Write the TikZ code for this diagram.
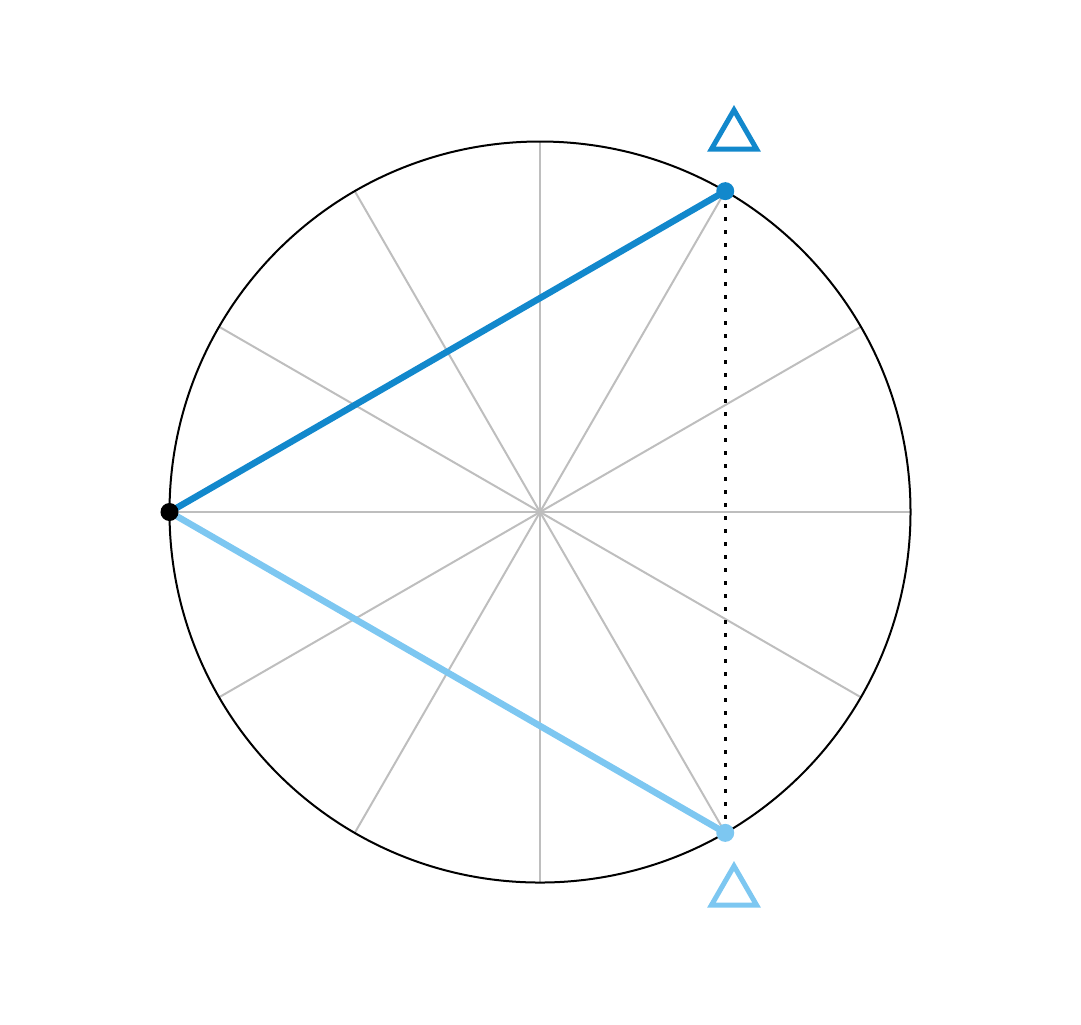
\documentclass[tikz,border=0pt]{standalone}
\usepackage{tikz}
\usetikzlibrary{shapes.geometric}
\definecolor{darkblue}{RGB}{18,136,204}
\definecolor{lightblue}{RGB}{125,199,241}
\tikzset{
	spoke/.style={draw={rgb,255:red,190;green,190;blue,190}, line width=0.02cm},
	chord/.style={line width=0.065cm},
	marker/.style={regular polygon, regular polygon sides=3, draw=#1, line width=0.05cm,
		minimum size=0.52cm, inner sep=0pt}
}
\newcommand{\drawpoint}[2]{   % name, colour
	\fill[#2] (#1) circle[radius=0.09];
}

\begin{document}
\begin{tikzpicture}
\useasboundingbox (-5.40, -5.12) rectangle (5.41, 5.12);

\coordinate (O) at (0, 0);
\foreach \a in {0, 30, ..., 330}
	\draw[spoke] (O) -- (\a:3.705);
\draw[line width=0.02cm] (O) circle[radius=3.705];

\coordinate (L) at (180:3.705);
\coordinate (P) at (60:3.705);
\coordinate (Q) at (-60:3.705);

\draw[line width=0.035cm, dash pattern=on 0.035cm off 0.095cm] (P) -- (Q);
\draw[chord, darkblue] (L) -- (P);
\draw[chord, lightblue] (L) -- (Q);

\drawpoint{L}{black}
\drawpoint{P}{darkblue}
\drawpoint{Q}{lightblue}

\node[marker=darkblue] (up) at (1.94, 3.76) {};
\node[marker=lightblue] (down) at (1.94, -3.80) {};
\end{tikzpicture}
\end{document}
